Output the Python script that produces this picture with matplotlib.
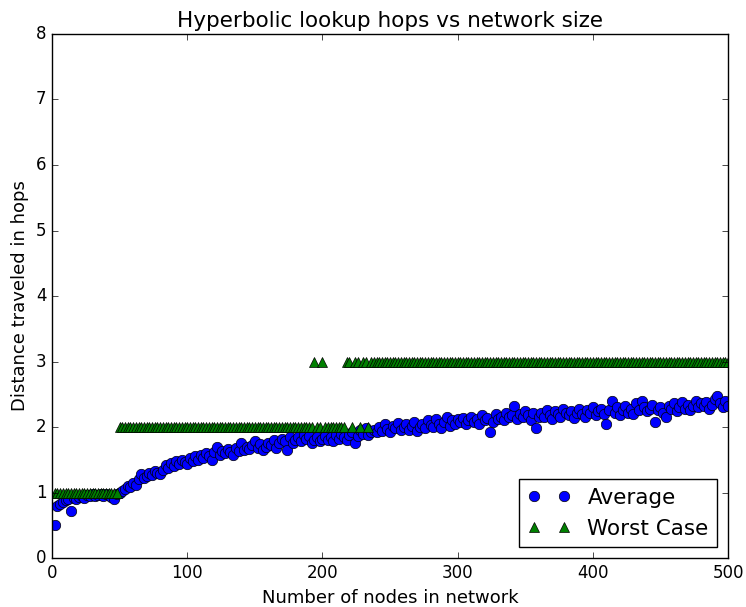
import matplotlib
matplotlib.use('Agg')
import matplotlib.pyplot as plt

# network sizes sampled (every 2 nodes)
nodes = list(range(2, 501, 2))

# average hops per network size
avg_hops = [
    0.50, 0.80, 0.82, 0.86, 0.88, 0.90, 0.72, 0.92, 0.90, 0.93,
    0.95, 0.92, 0.96, 0.94, 0.97, 0.95, 0.96, 0.98, 0.95, 0.97,
    0.96, 0.93, 0.90, 0.97, 1.00, 1.02, 1.05, 1.10, 1.08, 1.15,
    1.12, 1.20, 1.28, 1.22, 1.25, 1.30, 1.27, 1.33, 1.30, 1.28,
    1.35, 1.42, 1.38, 1.45, 1.40, 1.48, 1.44, 1.50, 1.46, 1.43,
    1.52, 1.48, 1.55, 1.50, 1.58, 1.53, 1.60, 1.55, 1.50, 1.62,
    1.70, 1.58, 1.63, 1.60, 1.66, 1.62, 1.58, 1.68, 1.63, 1.75,
    1.65, 1.70, 1.66, 1.72, 1.78, 1.68, 1.74, 1.65, 1.70, 1.76,
    1.72, 1.80, 1.68, 1.75, 1.82, 1.78, 1.65, 1.85, 1.76, 1.80,
    1.84, 1.78, 1.88, 1.82, 1.86, 1.75, 1.80, 1.84, 1.78, 1.82,
    1.86, 1.80, 1.85, 1.78, 1.88, 1.82, 1.90, 1.84, 1.80, 1.88,
    1.92, 1.75, 1.86, 1.95, 1.90, 1.98, 1.88, 1.93, 1.96, 1.92,
    2.00, 1.94, 2.05, 1.97, 1.92, 2.02, 1.98, 2.06, 1.95, 2.00,
    2.04, 1.96, 2.02, 2.08, 1.94, 2.00, 2.05, 1.98, 2.10, 2.03,
    2.00, 2.12, 2.05, 1.98, 2.08, 2.15, 2.02, 2.10, 2.05, 2.12,
    2.08, 2.14, 2.05, 2.10, 2.16, 2.08, 2.12, 2.05, 2.18, 2.10,
    2.14, 1.92, 2.08, 2.20, 2.12, 2.16, 2.10, 2.22, 2.15, 2.18,
    2.32, 2.12, 2.20, 2.15, 2.24, 2.18, 2.10, 2.22, 1.98, 2.16,
    2.22, 2.15, 2.26, 2.18, 2.12, 2.24, 2.20, 2.16, 2.28, 2.22,
    2.18, 2.25, 2.14, 2.22, 2.28, 2.20, 2.16, 2.26, 2.22, 2.30,
    2.18, 2.24, 2.28, 2.20, 2.04, 2.26, 2.40, 2.22, 2.30, 2.18,
    2.26, 2.32, 2.22, 2.28, 2.20, 2.36, 2.26, 2.40, 2.30, 2.24,
    2.28, 2.34, 2.08, 2.26, 2.30, 2.22, 2.16, 2.32, 2.28, 2.36,
    2.24, 2.30, 2.38, 2.28, 2.34, 2.26, 2.32, 2.40, 2.30, 2.36,
    2.32, 2.38, 2.28, 2.34, 2.42, 2.48, 2.36, 2.30, 2.40, 2.32,
]

# worst case hops as (value, run length)
worst_runs = [(1, 24), (2, 72), (3, 1), (2, 2), (3, 1), (2, 8),
              (3, 2), (2, 1), (3, 2), (2, 1), (3, 2), (2, 1), (3, 133)]
worst_hops = []
for v, n in worst_runs:
    worst_hops += [v] * n

plt.style.use('classic')
plt.rcParams['font.size'] = 12
plt.rcParams['figure.facecolor'] = 'white'

fig = plt.figure(figsize=(7.46, 6.07), dpi=100)
ax = fig.add_axes([0.0697, 0.0807, 0.9063, 0.8633])

ax.plot(nodes, avg_hops, 'bo', markersize=7.5, markeredgewidth=0.5, label='Average')
ax.plot(nodes, worst_hops, 'g^', markersize=7.5, markeredgewidth=0.5, label='Worst Case')

ax.set_xlim(0, 500)
ax.set_ylim(0, 8)
ax.set_title('Hyperbolic lookup hops vs network size', fontsize=15.5)
ax.set_xlabel('Number of nodes in network', fontsize=13)
ax.set_ylabel('Distance traveled in hops', fontsize=13)
ax.legend(loc='lower right', numpoints=2, fontsize=15.5)

fig.savefig('out.png', dpi=100, facecolor='white')
